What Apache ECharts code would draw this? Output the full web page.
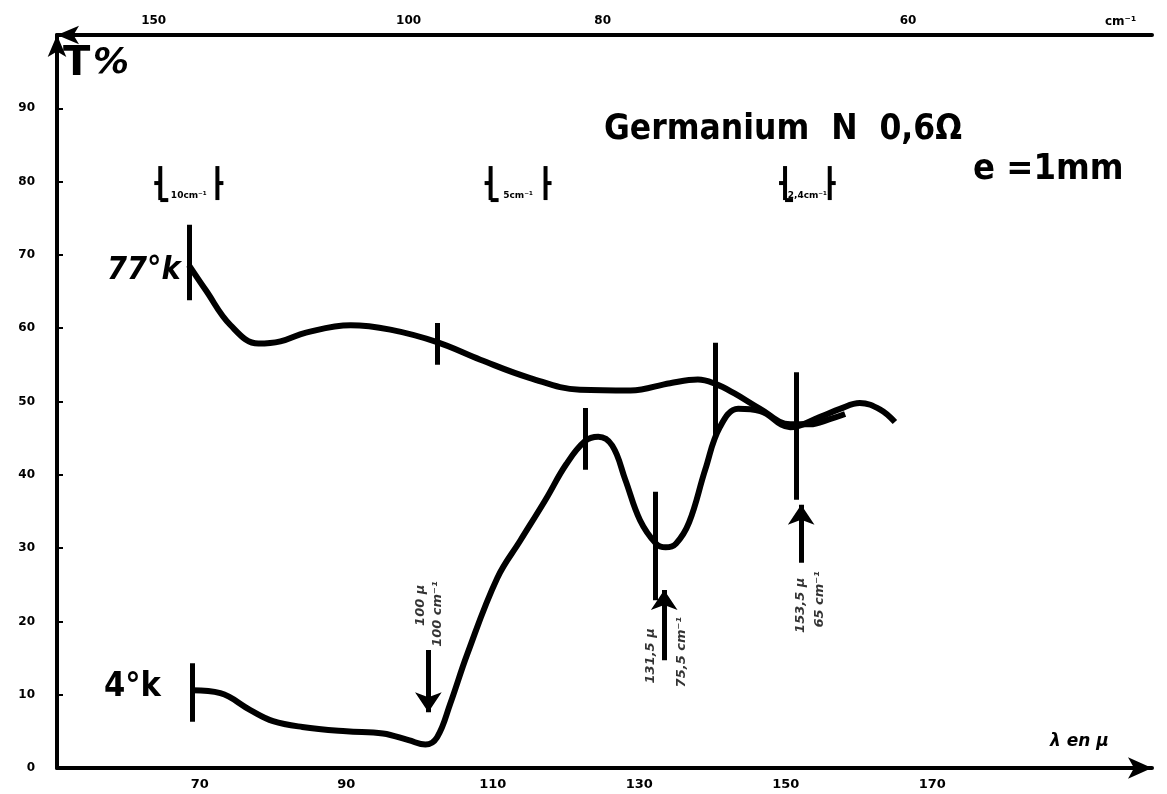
<!DOCTYPE html>
<html>
<head>
<meta charset="utf-8">
<title>Germanium N 0,6 Ω</title>
<script src="https://cdn.jsdelivr.net/npm/echarts@6/dist/echarts.min.js"></script>
<style>
  html, body { margin: 0; padding: 0; background: #fff; }
  #main { width: 1167px; height: 794px; }
</style>
</head>
<body>
<div id="main"></div>
<script>
// transmission, [lambda in µm, T in %]
var curve77K = [
  [68.5, 68.6], [70.8, 65.2], [74.2, 60.4], [78.0, 57.9], [81.0, 58.2], [84.5, 59.4],
  [90.6, 60.4], [96.0, 59.8], [102.4, 58.1], [108.3, 55.7], [115.1, 53.2], [121.9, 51.6],
  [128.8, 51.5], [134.2, 52.5], [138.0, 53.0], [140.4, 52.4], [143.0, 51.1], [146.5, 49.0],
  [150.6, 46.9], [153.3, 46.9], [156.0, 47.6], [158.1, 48.3]
];
var curve4K = [
  [69.0, 10.6], [72.8, 10.2], [76.9, 7.9], [80.0, 6.4], [84.0, 5.6], [90.0, 5.0],
  [95.0, 4.7], [98.5, 3.8], [100.8, 3.2], [102.4, 4.2], [104.2, 8.8], [106.5, 15.5],
  [110.6, 25.9], [113.8, 31.1], [117.2, 36.6], [120.0, 41.4], [122.6, 44.6], [124.4, 45.2],
  [126.3, 44.0], [128.1, 39.3], [130.1, 33.8], [132.3, 30.6], [133.6, 30.1], [135.0, 30.6],
  [136.8, 33.5], [139.0, 40.7], [141.0, 46.5], [143.5, 49.0], [146.5, 48.7], [150.6, 46.5],
  [154.7, 47.9], [157.4, 49.0], [160.1, 49.8], [162.9, 48.9], [164.9, 47.2]
];
// short vertical marks on the curves: [lambda, T low, T high]
var marks = [
  [68.5, 63.8, 74.1], [102.4, 55.0, 60.7], [140.4, 45.2, 58.0], [151.4, 36.6, 54.0],
  [69.0, 6.3, 14.3], [122.6, 40.7, 49.1], [132.2, 22.9, 37.7]
];
// arrows: [lambda, T tail, T head]
var arrows = [
  [101.2, 16.1, 7.6],
  [133.4, 14.7, 24.3],
  [152.1, 28.0, 35.9]
];
// resolution brackets: [lambda left, lambda right, T, label]
var brackets = [
  [64.6, 72.4, 79.8, '10cm⁻¹'],
  [109.7, 117.2, 79.8, '5cm⁻¹'],
  [149.9, 156.0, 79.8, '2,4cm⁻¹']
];
// vertical notes: [lambda, T, text]
var notes = [
  [100.2, 22.2, '100 µ'],
  [102.4, 21.0, '100 cm⁻¹'],
  [131.5, 15.3, '131,5 µ'],
  [135.8, 15.8, '75,5 cm⁻¹'],
  [152.0, 22.2, '153,5 µ'],
  [154.6, 23.0, '65 cm⁻¹']
];
var xTicks = [70, 90, 110, 130, 150, 170];
var topTickPos = [63.7, 98.5, 125, 166.7];
var topTickLabels = ['150', '100', '80', '60'];

var font = '"DejaVu Sans", sans-serif';
var cond = '"DejaVu Sans Condensed", "DejaVu Sans", sans-serif';
var chart = echarts.init(document.getElementById('main'));

var option = {
  animation: false,
  backgroundColor: '#fff',
  grid: { left: 57, right: 15, top: 35, bottom: 26 },
  xAxis: [
    {
      type: 'value', min: 50.5, max: 200, position: 'bottom',
      splitLine: { show: false },
      axisLine: { lineStyle: { color: '#000', width: 4 }, symbol: ['none', 'arrow'], symbolSize: [16, 24] },
      axisTick: { show: false },
      axisLabel: {
        customValues: xTicks, color: '#000', fontFamily: font, fontWeight: 'bold', fontSize: 13, margin: 10
      }
    },
    {
      type: 'value', min: 50.5, max: 200, position: 'top',
      splitLine: { show: false },
      axisLine: { lineStyle: { color: '#000', width: 4 }, symbol: ['arrow', 'none'], symbolSize: [14, 22] },
      axisTick: { show: false },
      axisLabel: {
        customValues: topTickPos, color: '#000', fontFamily: font, fontWeight: 'bold', fontSize: 12, margin: 8,
        formatter: function (v) {
          var i = topTickPos.indexOf(v);
          return i >= 0 ? topTickLabels[i] : '';
        }
      }
    }
  ],
  yAxis: {
    type: 'value', min: 0, max: 100, interval: 10,
    splitLine: { show: false },
    axisLine: { lineStyle: { color: '#000', width: 4 }, symbol: ['none', 'arrow'], symbolSize: [14, 22] },
    axisTick: { inside: true, length: 6, lineStyle: { color: '#000', width: 2 } },
    axisLabel: {
      color: '#000', fontFamily: font, fontWeight: 'bold', fontSize: 12, margin: 22,
      formatter: function (v) { return v >= 100 ? '' : v; }
    }
  },
  series: [
    {
      name: '77°k', type: 'line', data: curve77K, smooth: 0.4, showSymbol: false,
      lineStyle: { color: '#000', width: 6 }
    },
    {
      name: '4°k', type: 'line', data: curve4K, smooth: 0.4, showSymbol: false,
      lineStyle: { color: '#000', width: 6 }
    },
    {
      type: 'lines', coordinateSystem: 'cartesian2d', symbol: 'none',
      lineStyle: { color: '#000', width: 5, opacity: 1 },
      data: marks.map(function (m) { return { coords: [[m[0], m[1]], [m[0], m[2]]] }; })
    },
    {
      type: 'lines', coordinateSystem: 'cartesian2d',
      symbol: ['none', 'arrow'], symbolSize: 20,
      lineStyle: { color: '#000', width: 5, opacity: 1 },
      data: arrows.map(function (a) { return { coords: [[a[0], a[1]], [a[0], a[2]]] }; })
    },
    {
      type: 'custom',
      data: brackets,
      renderItem: function (params, api) {
        var l = api.coord([api.value(0), api.value(2)]);
        var r = api.coord([api.value(1), api.value(2)]);
        var h = 17;
        var st = { stroke: '#000', lineWidth: 4 };
        return {
          type: 'group',
          children: [
            { type: 'line', shape: { x1: l[0], y1: l[1] - h, x2: l[0], y2: l[1] + h }, style: st },
            { type: 'line', shape: { x1: l[0] - 6, y1: l[1], x2: l[0], y2: l[1] }, style: st },
            { type: 'line', shape: { x1: r[0], y1: r[1] - h, x2: r[0], y2: r[1] + h }, style: st },
            { type: 'line', shape: { x1: r[0], y1: r[1], x2: r[0] + 6, y2: r[1] }, style: st },
            { type: 'line', shape: { x1: l[0], y1: l[1] + h, x2: l[0] + 8, y2: l[1] + h }, style: st },
            {
              type: 'text',
              style: {
                text: brackets[params.dataIndex][3], x: (l[0] + r[0]) / 2, y: l[1] + h,
                align: 'center', verticalAlign: 'bottom', fill: '#000',
                font: 'bold 9px ' + font
              }
            }
          ]
        };
      }
    },
    {
      type: 'scatter', symbolSize: 1, itemStyle: { color: 'rgba(0,0,0,0)' },
      data: notes,
      label: {
        show: true, position: 'inside', rotate: 90,
        formatter: function (p) { return p.data[2]; },
        color: '#000', fontFamily: font, fontWeight: 'bold', fontStyle: 'italic', fontSize: 13
      }
    }
  ],
  graphic: [
    { type: 'text', left: 63, top: 45, style: { text: 'T', font: 'bold 40px ' + font, fill: '#000' } },
    { type: 'text', left: 93, top: 46, style: { text: '%', font: 'bold italic 36px ' + font, fill: '#000' } },
    { type: 'text', left: 107, top: 255, style: { text: '77°k', font: 'bold italic 32px ' + cond, fill: '#000' } },
    { type: 'text', left: 104, top: 670, style: { text: '4°k', font: 'bold 34px ' + cond, fill: '#000' } },
    { type: 'text', left: 604, top: 112, style: { text: 'Germanium  N  0,6Ω', font: 'bold 35px ' + cond, fill: '#000' } },
    { type: 'text', left: 973, top: 152, style: { text: 'e =1mm', font: 'bold 36px ' + cond, fill: '#000' } },
    { type: 'text', left: 1050, top: 733, style: { text: 'λ en µ', font: 'bold italic 17px ' + font, fill: '#000' } },
    { type: 'text', left: 1105, top: 16, style: { text: 'cm⁻¹', font: 'bold 12px ' + font, fill: '#000' } }
  ]
};

chart.setOption(option);
</script>
</body>
</html>
